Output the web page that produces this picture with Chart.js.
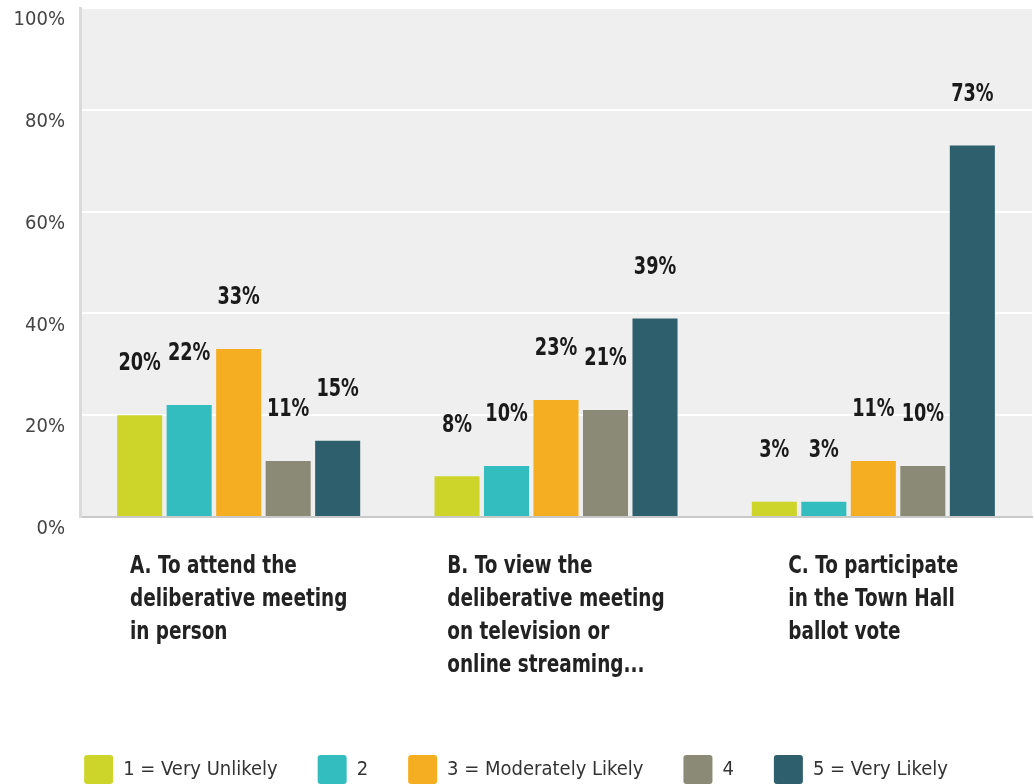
<!DOCTYPE html>
<html>
<head>
<meta charset="utf-8">
<script src="https://cdn.jsdelivr.net/npm/chart.js@4.4.1/dist/chart.umd.min.js"></script>
<style>
  html, body { margin: 0; padding: 0; background: #fff; }
  #wrap { width: 1034px; height: 784px; position: relative; }
</style>
</head>
<body>
<div id="wrap"><canvas id="likelyChart"></canvas></div>
<script>
// data
const categories = [
    ["A. To attend the", "deliberative meeting", "in person"],
    ["B. To view the", "deliberative meeting", "on television or", "online streaming..."],
    ["C. To participate", "in the Town Hall", "ballot vote"]
];
const seriesNames = ["1 = Very Unlikely", "2", "3 = Moderately Likely", "4", "5 = Very Likely"];
const veryUnlikely = [20, 8, 3];
const two = [22, 10, 3];
const moderately = [33, 23, 11];
const four = [11, 21, 10];
const veryLikely = [15, 39, 73];
const yTicks = [0, 20, 40, 60, 80, 100];

const colors = ["#cdd52b", "#33bdbf", "#f5ae22", "#8a8a77", "#2e5f6c"];
const FONT = "'Liberation Sans Narrow', 'Arial Narrow', 'DejaVu Sans Condensed', sans-serif";
const SQUEEZE = 0.82; // narrow the drawn bold text a bit, the original font is condensed

// grey plot background
const plotBg = {
    id: "plotBg",
    beforeDraw(chart) {
        const a = chart.chartArea, ctx = chart.ctx;
        ctx.save();
        ctx.fillStyle = "#efefef";
        ctx.fillRect(a.left, a.top, a.right - a.left, a.bottom - a.top);
        ctx.restore();
    }
};

// value labels above the bars
const valueLabels = {
    id: "valueLabels",
    afterDatasetsDraw(chart) {
        const ctx = chart.ctx;
        chart.data.datasets.forEach((ds, i) => {
            chart.getDatasetMeta(i).data.forEach((bar, j) => {
                ctx.save();
                ctx.font = "bold 24px " + FONT;
                ctx.fillStyle = "#1a1a1a";
                ctx.textAlign = "center";
                ctx.textBaseline = "middle";
                ctx.translate(bar.x, bar.y - 51);
                ctx.scale(SQUEEZE, 1);
                ctx.fillText(ds.data[j] + "%", 0, 0);
                ctx.restore();
            });
        });
    }
};

// category labels: block centred on the category, lines left aligned
const categoryLabels = {
    id: "categoryLabels",
    afterDraw(chart) {
        const ctx = chart.ctx, xs = chart.scales.x;
        categories.forEach((lines, i) => {
            ctx.save();
            ctx.font = "bold 25px " + FONT;
            ctx.fillStyle = "#222";
            ctx.textAlign = "left";
            ctx.textBaseline = "middle";
            const w = Math.max(...lines.map(l => ctx.measureText(l).width)) * SQUEEZE;
            ctx.translate(xs.getPixelForValue(i) - w / 2, xs.top + 49);
            ctx.scale(SQUEEZE, 1);
            lines.forEach((l, k) => ctx.fillText(l, 0, k * 33));
            ctx.restore();
        });
    }
};

const series = [veryUnlikely, two, moderately, four, veryLikely];

new Chart(document.getElementById("likelyChart"), {
    type: "bar",
    data: {
        labels: categories.map(c => c.join(" ")),
        datasets: series.map((d, i) => ({
            label: seriesNames[i],
            data: d,
            backgroundColor: colors[i],
            categoryPercentage: 0.78,
            barPercentage: 0.91
        }))
    },
    options: {
        responsive: true,
        maintainAspectRatio: false,
        animation: false,
        layout: { padding: { top: 8, right: 2, left: 0, bottom: 0 } },
        scales: {
            x: {
                grid: { display: false },
                border: { color: "#c9c9c9", width: 2 },
                ticks: { display: false },
                afterFit: s => { s.height = 198; }
            },
            y: {
                min: 0,
                max: 100,
                grid: {
                    color: c => (c.tick.value === 0 ? "rgba(0,0,0,0)" : "#ffffff"),
                    lineWidth: 2,
                    drawTicks: false
                },
                border: { color: "#dadada", width: 3 },
                ticks: {
                    stepSize: 10,
                    padding: 15,
                    color: "#444",
                    font: { family: FONT, size: 20 },
                    callback: v => (yTicks.includes(v) ? ["", v + "%"] : "")
                },
                afterFit: s => {
                    s.width = 80;
                    s.paddingTop = 0;
                    s.paddingBottom = 0;
                }
            }
        },
        plugins: {
            legend: {
                position: "bottom",
                maxHeight: 69,
                labels: {
                    boxWidth: 29,
                    boxHeight: 29,
                    padding: 40,
                    useBorderRadius: true,
                    borderRadius: 3,
                    color: "#333",
                    font: { family: FONT, size: 20 }
                }
            },
            tooltip: { enabled: false }
        }
    },
    plugins: [plotBg, valueLabels, categoryLabels]
});
</script>
</body>
</html>
